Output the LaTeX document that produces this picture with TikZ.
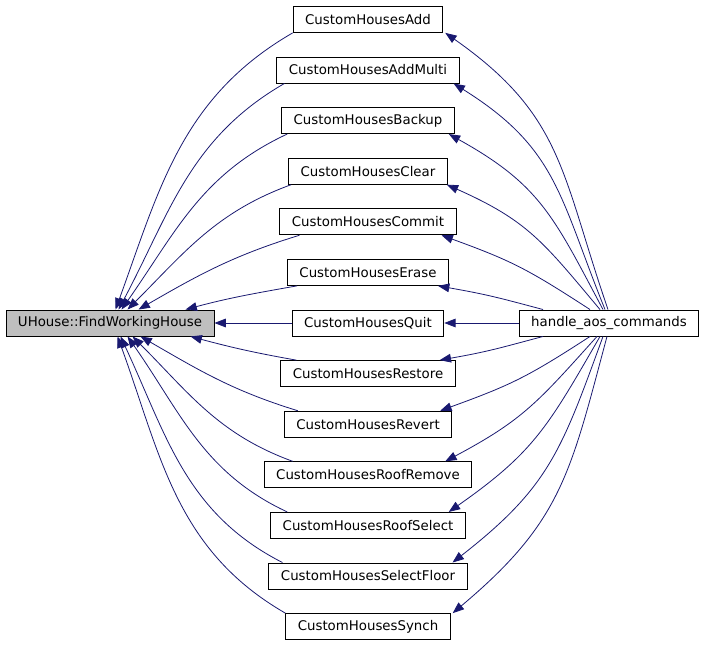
\documentclass[tikz,border=0pt]{standalone}
\usepackage{fontspec}
\setmainfont{DejaVu Sans}
\usetikzlibrary{arrows.meta,calc}
\definecolor{calledge}{HTML}{191970}

\begin{document}
\begin{tikzpicture}[x=0.75pt,y=0.75pt,
      font=\fontsize{10}{12}\selectfont,
      fnbox/.style={draw,line width=0.7pt,minimum height=19.5pt,inner xsep=9pt,inner ysep=0pt},
      callee/.style={fnbox,fill=gray!50},
      call/.style={draw=calledge,line width=0.6pt,-{Triangle[length=8.5pt,width=6.5pt]}}]

  \useasboundingbox (0,0) rectangle (707,-645);

  \node[callee] (fwh) at (110,-323) {UHouse::FindWorkingHouse};
  \node[fnbox] (hac) at (609,-323) {handle\_aos\_commands};

  \foreach \n/\lbl [count=\i from 0] in {add/CustomHousesAdd, addmulti/CustomHousesAddMulti,
      backup/CustomHousesBackup, clear/CustomHousesClear, commit/CustomHousesCommit,
      erase/CustomHousesErase, quit/CustomHousesQuit, restore/CustomHousesRestore,
      revert/CustomHousesRevert, roofremove/CustomHousesRoofRemove,
      roofselect/CustomHousesRoofSelect, selectfloor/CustomHousesSelectFloor,
      synch/CustomHousesSynch}
    \node[fnbox] (\n) at (368,{-19.4-50.6*\i}) {\lbl};

  \foreach \n/\sx/\ex/\oa/\ia in {add/0/110/210/70, addmulti/8/113/210/62,
      backup/6/116/205/55, clear/3/122/200/45, commit/20/133/197/30, erase/10/180/190/15}
    \draw[call] ($(\n.south west)+(\sx,0)$) to[out=\oa,in=\ia] ($(fwh.north west)+(\ex,0)$);
  \foreach \n/\sx/\ex/\oa/\ia in {synch/0/112/150/290, selectfloor/14/115/153/295,
      roofselect/17/122/155/305, roofremove/29/127/160/315, revert/14/135/163/330,
      restore/16/185/170/345}
    \draw[call] ($(\n.north west)+(\sx,0)$) to[out=\oa,in=\ia] ($(fwh.south west)+(\ex,0)$);

  \foreach \n/\sx/\ex/\oa/\ia in {add/-1/2/109/325, addmulti/-4/-6/112/328,
      backup/-6/-6/118/331, clear/-9/-1/130/336, commit/-19/-15/147/340, erase/-66/-11/165/350}
    \draw[call] ($(hac.north)+(\sx,0)$) to[out=\oa,in=\ia,looseness=1.15] ($(\n.south east)+(\ex,0)$);
  \foreach \n/\sx/\ex/\oa/\ia in {restore/-66/-16/195/10, revert/-19/-12/213/20,
      roofremove/-12/-27/228/28, roofselect/-9/-17/240/35, selectfloor/-6/-15/250/38,
      synch/-2/2/255/40}
    \draw[call] ($(hac.south)+(\sx,0)$) to[out=\oa,in=\ia,looseness=1.15] ($(\n.north east)+(\ex,0)$);

  \draw[call] (quit) -- (fwh);
  \draw[call] (hac) -- (quit);
\end{tikzpicture}
\end{document}
